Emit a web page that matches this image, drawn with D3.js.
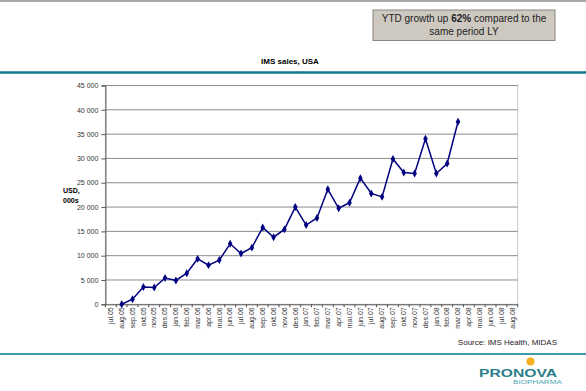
<!DOCTYPE html>
<html>
<head>
<meta charset="utf-8">
<script src="https://cdn.jsdelivr.net/npm/d3@7"></script>
<style>
  body { margin: 0; background: #fff; }
  svg { font-family: "Liberation Sans", Arial, sans-serif; display: block; }
</style>
</head>
<body>
<svg id="wrapper" width="586" height="391"></svg>
<script>
var months = ['jul.05','aug.05','sep.05','okt.05','nov.05','des.05','jan.06','feb.06','mar.06','apr.06','mai.06','jun.06',
              'jul.06','aug.06','sep.06','okt.06','nov.06','des.06','jan.07','feb.07','mar.07','apr.07','mai.07','jun.07',
              'jul.07','aug.07','sep.07','okt.07','nov.07','des.07','jan.08','feb.08','mar.08','apr.08','mai.08','jun.08',
              'jul.08','aug.08']

// sales, USD 000s (no value before aug.05 and after mar.08)
var salesMonths = ['aug.05','sep.05','okt.05','nov.05','des.05','jan.06','feb.06','mar.06','apr.06','mai.06','jun.06',
                   'jul.06','aug.06','sep.06','okt.06','nov.06','des.06','jan.07','feb.07','mar.07','apr.07','mai.07',
                   'jun.07','jul.07','aug.07','sep.07','okt.07','nov.07','des.07','jan.08','feb.08','mar.08']
var salesValues = [0, 1050, 3550, 3450, 5400, 4900, 6400, 9350, 8050, 9100, 12450, 10450, 11650, 15800, 13800, 15400,
                   20000, 16300, 17750, 23650, 19750, 20900, 25950, 22800, 22100, 29900, 27100, 26900, 34050, 26900,
                   28950, 37550]

var yTicks = [0, 5000, 10000, 15000, 20000, 25000, 30000, 35000, 40000, 45000]

var svg = d3.select('#wrapper')

// page decoration
svg.append('line').attr('x1', 0).attr('x2', 586).attr('y1', 1).attr('y2', 1)
    .attr('stroke', '#a8a8a8').attr('stroke-width', 2)
svg.append('line').attr('x1', 0).attr('x2', 586).attr('y1', 72.5).attr('y2', 72.5)
    .attr('stroke', '#11788b').attr('stroke-width', 2.5)
svg.append('line').attr('x1', 0).attr('x2', 586).attr('y1', 354).attr('y2', 354)
    .attr('stroke', '#3f9dab').attr('stroke-width', 2)

// growth box
svg.append('rect').attr('x', 373).attr('y', 10).attr('width', 182).attr('height', 30.5)
    .attr('fill', '#cdc8c0').attr('stroke', '#8a8680').attr('stroke-width', 1)
var boxText = svg.append('text').attr('x', 464).attr('y', 21.5).attr('text-anchor', 'middle')
    .style('font-size', '10px').attr('fill', '#222')
boxText.append('tspan').text('YTD growth up ')
boxText.append('tspan').style('font-weight', 'bold').text('62%')
boxText.append('tspan').text(' compared to the')
svg.append('text').attr('x', 464).attr('y', 35).attr('text-anchor', 'middle')
    .style('font-size', '10px').attr('fill', '#222').text('same period LY')

// chart title
svg.append('text').attr('x', 290).attr('y', 64).attr('text-anchor', 'middle')
    .style('font-size', '8px').style('font-weight', 'bold').text('IMS sales, USA')

var plotLeft = 105.4, plotRight = 517.7, plotTop = 85.5, plotBottom = 304.3

var x = d3.scaleBand().domain(months).range([plotLeft, plotRight])
var y = d3.scaleLinear().domain([0, 45000]).range([plotBottom, plotTop])

// plot border and gridlines
svg.append('rect').attr('x', plotLeft).attr('y', plotTop)
    .attr('width', plotRight - plotLeft).attr('height', plotBottom - plotTop)
    .attr('fill', 'none').attr('stroke', '#c8c8c8')
svg.selectAll('.grid')
    .data(yTicks.slice(1))
    .join('line')
    .attr('class', 'grid')
    .attr('x1', plotLeft).attr('x2', plotRight)
    .attr('y1', d => y(d)).attr('y2', d => y(d))
    .attr('stroke', '#8c8c8c').attr('stroke-width', 1)

// y axis
var yAxis = svg.append('g')
    .attr('transform', 'translate(' + plotLeft + ',0)')
    .call(d3.axisLeft(y).tickValues(yTicks).tickSize(4).tickPadding(3)
        .tickFormat(d => d3.format(',')(d).replace(',', ' ')))
yAxis.select('.domain').attr('stroke', '#555')
yAxis.selectAll('line').attr('stroke', '#555')
yAxis.selectAll('text').style('font-size', '7px').attr('fill', '#333')
    .style('font-family', '"Liberation Sans", Arial, sans-serif')

// x axis
var xAxis = svg.append('g')
    .attr('transform', 'translate(0,' + plotBottom + ')')
    .call(d3.axisBottom(x).tickSize(0).tickPadding(3))
xAxis.select('.domain').attr('stroke', '#555')
xAxis.selectAll('text')
    .attr('transform', 'rotate(-90)')
    .attr('x', -3).attr('y', 0).attr('dy', '0.32em')
    .style('text-anchor', 'end')
    .style('font-size', '7px').attr('fill', '#333')
    .style('font-family', '"Liberation Sans", Arial, sans-serif')
svg.selectAll('.xtick')
    .data(months.concat(['end']))
    .join('line')
    .attr('class', 'xtick')
    .attr('x1', (d, i) => plotLeft + i * x.step()).attr('x2', (d, i) => plotLeft + i * x.step())
    .attr('y1', plotBottom).attr('y2', plotBottom + 3)
    .attr('stroke', '#555')

// y label
svg.append('text').attr('x', 63).attr('y', 193).style('font-size', '7px').style('font-weight', 'bold').text('USD,')
svg.append('text').attr('x', 63).attr('y', 203).style('font-size', '7px').style('font-weight', 'bold').text('000s')

// line
var sales = salesMonths.map((m, i) => ({ month: m, value: salesValues[i] }))
var cx = d => x(d.month) + x.bandwidth() / 2
svg.append('path')
    .datum(sales)
    .attr('fill', 'none')
    .attr('stroke', '#000080')
    .attr('stroke-width', 1.5)
    .attr('d', d3.line().x(cx).y(d => y(d.value)))
svg.selectAll('.marker')
    .data(sales)
    .join('path')
    .attr('class', 'marker')
    .attr('transform', d => 'translate(' + cx(d) + ',' + y(d.value) + ')')
    .attr('d', d3.symbol().type(d3.symbolDiamond).size(18))
    .attr('fill', '#000080')

// source
svg.append('text').attr('x', 557).attr('y', 345).attr('text-anchor', 'end')
    .style('font-size', '8px').attr('fill', '#222').text('Source: IMS Health, MIDAS')

// logo
svg.append('circle').attr('cx', 530.5).attr('cy', 361.5).attr('r', 4)
    .attr('fill', '#f5b021')
svg.append('text').attr('x', 518).attr('y', 377).attr('text-anchor', 'middle')
    .style('font-size', '11px').style('font-weight', 'bold').attr('fill', '#2a7e8c')
    .attr('textLength', 78).attr('lengthAdjust', 'spacingAndGlyphs').text('PRONOVA')
svg.append('text').attr('x', 537.5).attr('y', 383.5).attr('text-anchor', 'middle')
    .style('font-size', '5px').attr('fill', '#4aa6b4')
    .attr('textLength', 49).attr('lengthAdjust', 'spacingAndGlyphs').text('BIOPHARMA')
</script>
</body>
</html>
